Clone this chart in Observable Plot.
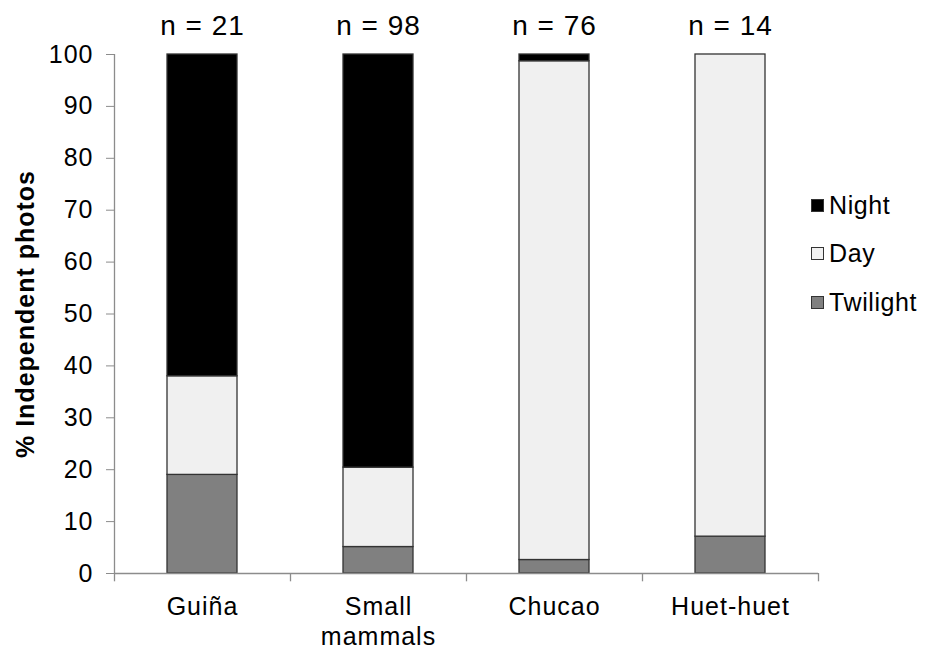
<!DOCTYPE html>
<html>
<head>
<meta charset="utf-8">
<script src="https://cdn.jsdelivr.net/npm/d3@7"></script>
<script src="https://cdn.jsdelivr.net/npm/@observablehq/plot@0.6"></script>
<style>
  html, body { margin: 0; padding: 0; background: #fff; }
  #wrap { position: relative; width: 928px; height: 654px; font-family: "Liberation Sans", Arial, sans-serif; }
  #legend { position: absolute; left: 811px; top: 181px; font-size: 25px; letter-spacing: 0.6px; color: #000; }
  #legend .item { display: flex; align-items: center; height: 48.5px; }
  #legend .sw { width: 13px; height: 13px; border: 1px solid #333; margin-right: 5px; box-sizing: border-box; }
</style>
</head>
<body>
<div id="wrap"></div>
<script>
const categories = ["Guiña", "Small mammals", "Chucao", "Huet-huet"];
const categoryLabels = ["Guiña", "Small\nmammals", "Chucao", "Huet-huet"];
const sampleSizes = [21, 98, 76, 14];
const periods = ["Twilight", "Day", "Night"];
const twilight = [19.0, 5.1, 2.6, 7.1];
const day = [19.0, 15.3, 96.1, 92.9];
const night = [62.0, 79.6, 1.3, 0];
const periodColors = ["#808080", "#f0f0f0", "#000000"];
const legendOrder = ["Night", "Day", "Twilight"];
const yTicks = [0, 10, 20, 30, 40, 50, 60, 70, 80, 90, 100];
const yLabel = "% Independent photos";

const series = {Twilight: twilight, Day: day, Night: night};
const rows = [];
categories.forEach((c, i) => {
  periods.forEach(p => {
    if (series[p][i] > 0) rows.push({category: c, period: p, value: series[p][i]});
  });
});
const labelMap = new Map(categories.map((c, i) => [c, categoryLabels[i]]));
const axisGray = "#8c8c8c";

const chart = Plot.plot({
  width: 928,
  height: 654,
  marginLeft: 114,
  marginRight: 110,
  marginTop: 54,
  marginBottom: 81,
  style: {fontFamily: "'Liberation Sans', Arial, sans-serif", fontSize: "25px", color: "#000", background: "#fff", letterSpacing: "1px"},
  x: {type: "band", domain: categories, paddingInner: 0.6, paddingOuter: 0.3, label: null},
  y: {domain: [0, 100], label: null},
  color: {domain: periods, range: periodColors},
  marks: [
    Plot.barY(rows, Plot.stackY({x: "category", y: "value", fill: "period", stroke: "#333", strokeWidth: 1.3})),
    Plot.ruleY([0], {stroke: axisGray, strokeWidth: 1.3}),
    Plot.ruleX([categories[0]], {x: d => d, dx: -88, y1: 0, y2: 100, stroke: axisGray, strokeWidth: 1.3}),
    Plot.ruleX(categories, {x: d => d, dx: -88, y1: 0, y2: -1.6, stroke: axisGray, strokeWidth: 1.3}),
    Plot.ruleX([categories[categories.length - 1]], {x: d => d, dx: 88, y1: 0, y2: -1.6, stroke: axisGray, strokeWidth: 1.3}),
    Plot.axisY({ticks: yTicks, tickSize: 8, tickPadding: 13, stroke: axisGray, fill: "#000", fontSize: 25, label: null}),
    Plot.axisX({tickSize: 0, tickPadding: 20, tickFormat: d => labelMap.get(d), fontSize: 25, lineHeight: 1.2, fill: "#000", label: null}),
    Plot.text(categories, {x: d => d, y: () => 100, text: (d, i) => `n = ${sampleSizes[i]}`, dy: -28, fontSize: 28, fill: "#000"}),
    Plot.text([yLabel], {frameAnchor: "left", textAnchor: "middle", text: d => d, rotate: -90, dx: -89, fontSize: 25, fontWeight: "bold", fill: "#000"})
  ]
});

const wrap = document.getElementById("wrap");
wrap.appendChild(chart);

const legend = document.createElement("div");
legend.id = "legend";
legendOrder.forEach(name => {
  const item = document.createElement("div");
  item.className = "item";
  const sw = document.createElement("span");
  sw.className = "sw";
  sw.style.background = periodColors[periods.indexOf(name)];
  const label = document.createElement("span");
  label.textContent = name;
  item.appendChild(sw);
  item.appendChild(label);
  legend.appendChild(item);
});
wrap.appendChild(legend);
</script>
</body>
</html>
